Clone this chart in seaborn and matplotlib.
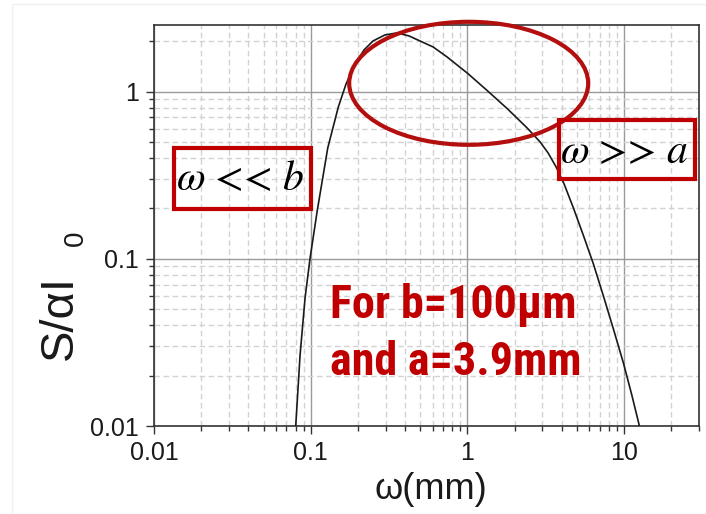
import matplotlib
matplotlib.use('Agg')
import matplotlib.pyplot as plt
import seaborn as sns
import pandas as pd
from matplotlib.patches import Ellipse, Rectangle
from matplotlib import font_manager as fm
from matplotlib.ticker import FixedLocator, FixedFormatter, LogLocator, NullFormatter

# ---- data ----
omega_mm = [0.0802, 0.0855, 0.0920, 0.0990, 0.1102, 0.1284, 0.1500, 0.1680, 0.1917,
            0.2188, 0.2497, 0.2979, 0.3553, 0.4240, 0.5058, 0.6034, 0.7410, 1.004,
            1.334, 1.789, 2.401, 2.906, 3.269, 3.677, 4.135, 4.741, 5.491, 6.359,
            7.367, 8.533, 9.883, 11.18, 12.32, 12.50]
s_over_ai0 = [0.0100, 0.0266, 0.0583, 0.1007, 0.1957, 0.4600, 0.8091, 1.110, 1.463,
              1.774, 2.007, 2.181, 2.242, 2.150, 1.993, 1.848, 1.610, 1.283,
              1.015, 0.792, 0.606, 0.4996, 0.4293, 0.354, 0.280, 0.2012, 0.1378, 0.0931,
              0.0599, 0.0380, 0.0238, 0.01532, 0.01057, 0.0100]
x_ticks = [0.01, 0.1, 1, 10]
x_tick_labels = ['0.01', '0.1', '1', '10']
y_ticks = [0.01, 0.1, 1]
y_tick_labels = ['0.01', '0.1', '1']
x_label = 'ω(mm)'
y_label_main = 'S/αI'
y_label_sub = '0'
note_lines = ['For b=100μm', 'and a=3.9mm']
box_left_text = r'$\mathit{\omega}$ << $\mathit{b}$'
box_right_text = r'$\mathit{\omega}$ >> $\mathit{a}$'

sns.set_theme(style='white')
plt.rcParams['font.family'] = ['Liberation Sans', 'DejaVu Sans']
plt.rcParams['mathtext.fontset'] = 'custom'
plt.rcParams['mathtext.rm'] = 'Liberation Sans'
plt.rcParams['mathtext.it'] = 'Liberation Sans:italic'
plt.rcParams['mathtext.default'] = 'regular'

names = {f.name for f in fm.fontManager.ttflist}
narrow = 'Liberation Sans'
for cand in ['Liberation Sans Narrow', 'Arial Narrow', 'Roboto Condensed', 'Open Sans Condensed']:
    if cand in names:
        narrow = cand
        break

W, H = 706, 514
fig = plt.figure(figsize=(W / 100, H / 100), dpi=100)
fig.patch.set_facecolor('white')
L, R, T, B = 154, 699, 25, 426
ax = fig.add_axes([L / W, 1 - B / H, (R - L) / W, (B - T) / H])

def fp(x, y):
    return (x / W, 1 - y / H)

df = pd.DataFrame({'omega': omega_mm, 'S': s_over_ai0})
sns.lineplot(data=df, x='omega', y='S', ax=ax, color='#1a1a1a', lw=1.2, zorder=3)

ax.set_xscale('log')
ax.set_yscale('log')
ax.set_xlim(0.01, 30)
ax.set_ylim(0.01, 2.5)

ax.xaxis.set_major_locator(FixedLocator(x_ticks))
ax.xaxis.set_major_formatter(FixedFormatter(x_tick_labels))
ax.yaxis.set_major_locator(FixedLocator(y_ticks))
ax.yaxis.set_major_formatter(FixedFormatter(y_tick_labels))
ax.xaxis.set_minor_locator(LogLocator(base=10, subs=range(2, 10), numticks=20))
ax.yaxis.set_minor_locator(LogLocator(base=10, subs=range(2, 10), numticks=20))
ax.xaxis.set_minor_formatter(NullFormatter())
ax.yaxis.set_minor_formatter(NullFormatter())

ax.tick_params(which='major', direction='out', length=6, width=1, color='#333333',
               labelsize=18, pad=5, bottom=True, left=True, top=False, right=False)
ax.tick_params(which='minor', direction='out', length=3.5, width=1, color='#333333',
               bottom=True, left=True, top=False, right=False)
for lab in ax.get_xticklabels() + ax.get_yticklabels():
    lab.set_color('#1a1a1a')

ax.grid(True, which='major', color='#9a9a9a', lw=1.0, ls='-', zorder=0)
ax.grid(True, which='minor', color='#d2d2d2', lw=1.0, ls=(0, (4, 2.5)), zorder=0)
ax.set_axisbelow(True)
for s in ax.spines.values():
    s.set_color('#333333')
    s.set_linewidth(1.2)
    s.set_visible(True)
ax.set_xlabel('')
ax.set_ylabel('')

# axis titles
fig.text(*fp(431, 499), x_label, ha='center', va='baseline', fontsize=26, color='#1a1a1a')
fig.text(*fp(72, 360), y_label_main, ha='left', va='baseline', rotation=90,
         rotation_mode='anchor', fontsize=34, color='#1a1a1a')
fig.text(*fp(83, 246), y_label_sub, ha='left', va='baseline', rotation=90,
         rotation_mode='anchor', fontsize=20, color='#1a1a1a')

red = '#C00000'
# ellipse
cx, cy = fp(468.7, 83.3)
fig.add_artist(Ellipse((cx, cy), 239 / W, 123 / H, transform=fig.transFigure,
                       fill=False, ec='#B40F0F', lw=3.0, zorder=10))
# boxes
for (x0, x1, y0, y1) in [(173.7, 311.3, 148, 208.7), (558.7, 694.7, 120.3, 178.7)]:
    bx, by = fp(x0, y1)
    fig.add_artist(Rectangle((bx, by), (x1 - x0) / W, (y1 - y0) / H,
                             transform=fig.transFigure, fill=False, ec=red, lw=3.0, zorder=10))
fig.text(*fp(240, 190), box_left_text, ha='center', va='baseline', fontsize=30,
         family='STIXGeneral', math_fontfamily='stix', color='black', zorder=11)
fig.text(*fp(624, 163.3), box_right_text, ha='center', va='baseline', fontsize=30,
         family='STIXGeneral', math_fontfamily='stix', color='black', zorder=11)

# red note, sized so its width matches the reference (~247 px)
t1 = fig.text(*fp(330, 318.3), note_lines[0], ha='left', va='baseline', fontsize=34,
              family=[narrow, 'Liberation Sans'], weight='bold', color=red, zorder=11)
t2 = fig.text(*fp(330, 375), note_lines[1], ha='left', va='baseline', fontsize=34,
              family=[narrow, 'Liberation Sans'], weight='bold', color=red, zorder=11)
fig.canvas.draw()
r = fig.canvas.get_renderer()
wpx = t1.get_window_extent(r).width
fs = 34 * 247.0 / wpx
t1.set_fontsize(fs)
t2.set_fontsize(fs)

# faint slide border
fig.add_artist(Rectangle(fp(12, 514), (W - 12) / W, (514 - 4) / H, transform=fig.transFigure,
                         fill=False, ec='#f0f0f0', lw=1.0, zorder=0))

fig.savefig('out.png', dpi=100)
